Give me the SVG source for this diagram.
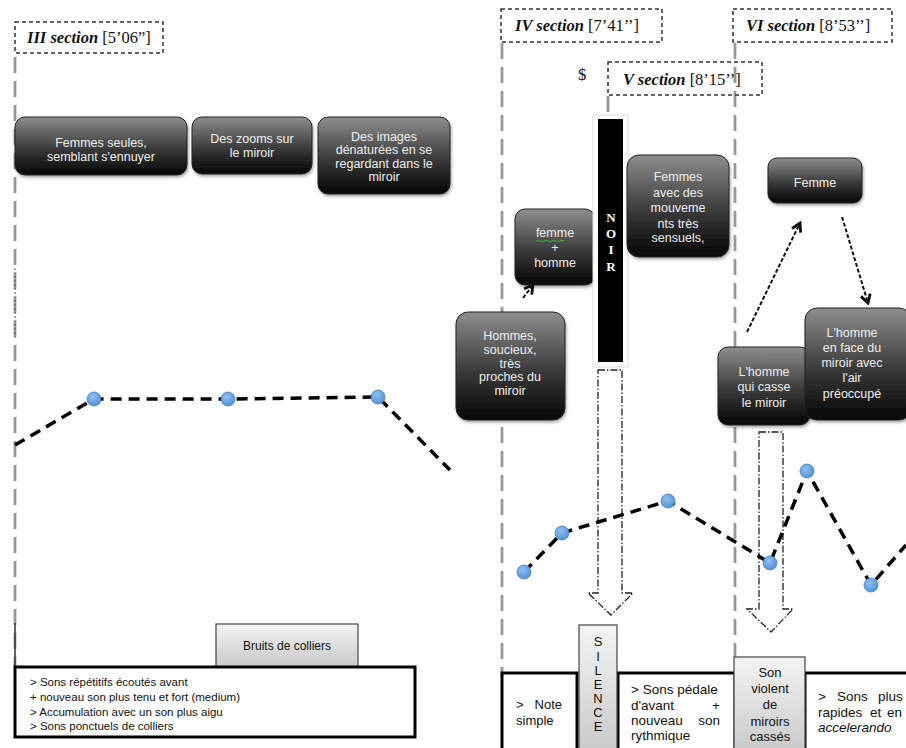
<svg xmlns="http://www.w3.org/2000/svg" width="906" height="748" viewBox="0 0 906 748">
<style>
.sec{fill:none;stroke:#333;stroke-width:1.5;stroke-dasharray:4 3}
.sect{font-family:"Liberation Serif",serif;font-size:16.5px;fill:#111}
.bi{font-weight:bold;font-style:italic}
.vl{fill:none;stroke:#999;stroke-width:2.8;stroke-dasharray:16 8}
.box{fill:url(#dark);stroke:#222;stroke-width:1;filter:url(#sh)}
.bt{font-family:"Liberation Sans",Arial,sans-serif;font-size:12.5px;fill:#eee;text-anchor:middle}
.bt2{font-family:"Liberation Sans",Arial,sans-serif;font-size:12.5px;fill:#eee;text-anchor:middle}
.curve{fill:none;stroke:#000;stroke-width:3.5;stroke-dasharray:11 7}
.dot{fill:url(#blue);stroke:#4a7fbf;stroke-width:0.8}
.ha{fill:#fff;stroke:#222;stroke-width:1.3;stroke-dasharray:7 2 1.5 2}
.ar{fill:none;stroke:#111;stroke-width:2;stroke-dasharray:4 2;marker-end:url(#ah)}
.gbox{fill:url(#light);stroke:#444;stroke-width:1.2}
.kbox{fill:#fff;stroke:#000;stroke-width:3}
.t{font-family:"Liberation Sans",Arial,sans-serif;fill:#111}
</style>
<defs>
<linearGradient id="dark" x1="0" y1="0" x2="0" y2="1">
<stop offset="0" stop-color="#8e8e8e"/>
<stop offset="0.55" stop-color="#3a3a3a"/>
<stop offset="1" stop-color="#050505"/>
</linearGradient>
<linearGradient id="light" x1="0" y1="0" x2="0" y2="1">
<stop offset="0" stop-color="#f4f4f4"/>
<stop offset="1" stop-color="#c8c8c8"/>
</linearGradient>
<radialGradient id="blue" cx="0.4" cy="0.35" r="0.7">
<stop offset="0" stop-color="#8fc0f0"/>
<stop offset="1" stop-color="#4f8fd6"/>
</radialGradient>
<filter id="sh" x="-10%" y="-10%" width="130%" height="130%">
<feDropShadow dx="1" dy="2" stdDeviation="1.5" flood-color="#000" flood-opacity="0.35"/>
</filter>
<marker id="ah" viewBox="0 0 10 10" refX="8" refY="5" markerWidth="6" markerHeight="6" orient="auto">
<path d="M1,1 L8,5 L1,9" fill="none" stroke="#111" stroke-width="2.4"/>
</marker>
</defs>

<g id="connectors">
<line class="vl" x1="15" y1="57" x2="15" y2="666"/>
<line x1="15" y1="268" x2="15" y2="338" stroke="#555" stroke-width="1" stroke-dasharray="2 2"/>
<line x1="15" y1="623" x2="15" y2="668" stroke="#333" stroke-width="1.5"/>
<line class="vl" x1="502" y1="43" x2="502" y2="672"/>
<line class="vl" x1="608" y1="96" x2="608" y2="112"/>
<line class="vl" x1="735" y1="43" x2="735" y2="657"/>
<path class="ha" d="M598,370 L622,370 L622,593 L633,593 L611,615 L588,593 L598,593 Z"/>
<path class="ha" d="M759,432 L783,432 L783,609 L793,609 L771,632 L747,609 L759,609 Z"/>
<polyline class="curve" points="15,445 94,399 228,399 378,397 450,470"/>
<polyline class="curve" points="524,572 562,533 668,501 770,563 807,471 871,585 906,545"/>
<line class="ar" x1="523" y1="298" x2="533" y2="285"/>
<line class="ar" x1="747" y1="332" x2="800" y2="223"/>
<line class="ar" x1="842" y1="217" x2="868" y2="303"/>
</g>

<g id="dots">
<circle class="dot" cx="94" cy="399" r="7"/>
<circle class="dot" cx="228" cy="399" r="7"/>
<circle class="dot" cx="378" cy="397" r="7"/>
<circle class="dot" cx="524" cy="572" r="7"/>
<circle class="dot" cx="562" cy="533" r="7"/>
<circle class="dot" cx="668" cy="501" r="7"/>
<circle class="dot" cx="770" cy="563" r="7"/>
<circle class="dot" cx="807" cy="471" r="7"/>
<circle class="dot" cx="871" cy="585" r="7"/>
</g>

<g id="sec3">
<rect class="sec" x="15" y="22" width="148" height="31" fill="#fff"/>
<text class="sect" x="27" y="43"><tspan class="bi">III section</tspan> [5’06”]</text>
</g>
<g id="sec4">
<rect class="sec" x="501" y="9" width="161" height="33" fill="#fff"/>
<text class="sect" x="515" y="31"><tspan class="bi">IV section</tspan> [7’41’’]</text>
</g>
<g id="sec5">
<text class="sect" x="578" y="80">$</text>
<rect class="sec" x="608" y="62" width="154" height="33" fill="#fff"/>
<text class="sect" x="623" y="85"><tspan class="bi">V section</tspan> [8’15’’]</text>
</g>
<g id="sec6">
<rect class="sec" x="733" y="9" width="159" height="33" fill="#fff"/>
<text class="sect" x="746" y="31"><tspan class="bi">VI section</tspan> [8’53’’]</text>
</g>

<g id="n1">
<rect class="box" x="15" y="117" width="172" height="58" rx="10"/>
<text class="bt" x="101" y="147">Femmes seules,</text>
<text class="bt" x="101" y="161">semblant s'ennuyer</text>
</g>
<g id="n2">
<rect class="box" x="192" y="117" width="120" height="57" rx="10"/>
<text class="bt" x="252" y="143">Des zooms sur</text>
<text class="bt" x="252" y="157">le miroir</text>
</g>
<g id="n3">
<rect class="box" x="318" y="117" width="132" height="77" rx="10"/>
<text class="bt" x="384" y="141">Des images</text>
<text class="bt" x="384" y="154">dénaturées en se</text>
<text class="bt" x="384" y="168">regardant dans le</text>
<text class="bt" x="384" y="181">miroir</text>
</g>

<g id="n4">
<rect class="box" x="456" y="312" width="109" height="108" rx="12"/>
<text class="bt2" x="510" y="340">Hommes,</text>
<text class="bt2" x="510" y="354">soucieux,</text>
<text class="bt2" x="510" y="368">très</text>
<text class="bt2" x="510" y="381">proches du</text>
<text class="bt2" x="510" y="395">miroir</text>
</g>
<g id="n5">
<rect class="box" x="515" y="209" width="80" height="76" rx="10"/>
<text class="bt2" x="555" y="237">femme</text>
<path d="M536,241 q2,-1.5 4,0 t4,0 t4,0 t4,0 t4,0 t4,0 t4,0" fill="none" stroke="#3c3" stroke-width="0.8"/>
<text class="bt2" x="555" y="252">+</text>
<text class="bt2" x="555" y="267">homme</text>
</g>
<g id="noir">
<rect x="593" y="115" width="35" height="252" fill="#fff" stroke="#ddd" stroke-width="1"/>
<rect x="598" y="119" width="25" height="243" fill="#000"/>
<g style="font-family:'Liberation Serif',serif;font-weight:bold;font-size:13px;fill:#fff;text-anchor:middle">
<text x="611" y="222">N</text>
<text x="611" y="238">O</text>
<text x="611" y="254">I</text>
<text x="611" y="271">R</text>
</g>
</g>
<g id="n6">
<rect class="box" x="627" y="155" width="102" height="102" rx="12"/>
<text class="bt2" x="678" y="181">Femmes</text>
<text class="bt2" x="678" y="197">avec des</text>
<text class="bt2" x="678" y="212">mouveme</text>
<text class="bt2" x="678" y="228">nts très</text>
<text class="bt2" x="678" y="242">sensuels,</text>
</g>
<g id="n7">
<rect class="box" x="768" y="158" width="94" height="45" rx="9"/>
<text class="bt" x="815" y="187">Femme</text>
</g>
<g id="n8">
<rect class="box" x="718" y="347" width="92" height="78" rx="10"/>
<text class="bt2" x="764" y="376">L'homme</text>
<text class="bt2" x="764" y="391">qui casse</text>
<text class="bt2" x="764" y="407">le miroir</text>
</g>
<g id="n9">
<rect class="box" x="805" y="308" width="106" height="112" rx="12"/>
<text class="bt2" x="852" y="337">L'homme</text>
<text class="bt2" x="852" y="352">en face du</text>
<text class="bt2" x="852" y="367">miroir avec</text>
<text class="bt2" x="852" y="382">l'air</text>
<text class="bt2" x="852" y="398">préoccupé</text>
</g>

<g id="bruits">
<rect class="gbox" x="216" y="624" width="142" height="43"/>
<text class="t" x="287" y="650" text-anchor="middle" style="font-size:12px">Bruits de colliers</text>
</g>
<g id="sound3">
<rect class="kbox" x="15" y="667" width="400" height="70"/>
<g class="t" style="font-size:11.5px">
<text x="30" y="686">&gt; Sons répétitifs écoutés avant</text>
<text x="30" y="701">+ nouveau son plus tenu et fort (medium)</text>
<text x="30" y="716">&gt; Accumulation avec un son plus aigu</text>
<text x="30" y="730">&gt; Sons ponctuels de colliers</text>
</g>
</g>

<g id="note">
<rect class="kbox" x="502" y="673" width="75" height="80"/>
<g class="t" style="font-size:13px">
<text x="516" y="709">&gt;</text>
<text x="562" y="709" text-anchor="end">Note</text>
<text x="516" y="725">simple</text>
</g>
</g>
<g id="pedale">
<rect class="kbox" x="618" y="673" width="117" height="80"/>
<g class="t" style="font-size:13.5px">
<text x="631" y="694">&gt; Sons pédale</text>
<text x="631" y="710">d'avant</text>
<text x="720" y="710" text-anchor="end">+</text>
<text x="631" y="725">nouveau</text>
<text x="720" y="725" text-anchor="end">son</text>
<text x="631" y="740">rythmique</text>
</g>
</g>
<g id="rapides">
<rect class="kbox" x="805" y="673" width="110" height="80"/>
<g class="t" style="font-size:13.5px">
<text x="818" y="701">&gt;</text>
<text x="837" y="701">Sons</text>
<text x="878" y="701">plus</text>
<text x="818" y="717">rapides</text>
<text x="870" y="717">et</text>
<text x="887" y="717">en</text>
<text x="818" y="732" font-style="italic">accelerando</text>
</g>
</g>
<g id="silence">
<rect class="gbox" x="579" y="625" width="38" height="130"/>
<g class="t" style="font-size:13px" text-anchor="middle">
<text x="598" y="646">S</text>
<text x="598" y="661">I</text>
<text x="598" y="675">L</text>
<text x="598" y="689">E</text>
<text x="598" y="703">N</text>
<text x="598" y="717">C</text>
<text x="598" y="731">E</text>
</g>
</g>
<g id="son">
<rect class="gbox" x="734" y="657" width="71" height="98"/>
<g class="t" style="font-size:13px" text-anchor="middle">
<text x="770" y="677">Son</text>
<text x="770" y="693">violent</text>
<text x="770" y="709">de</text>
<text x="770" y="726">miroirs</text>
<text x="770" y="741">cassés</text>
</g>
</g>
</svg>
